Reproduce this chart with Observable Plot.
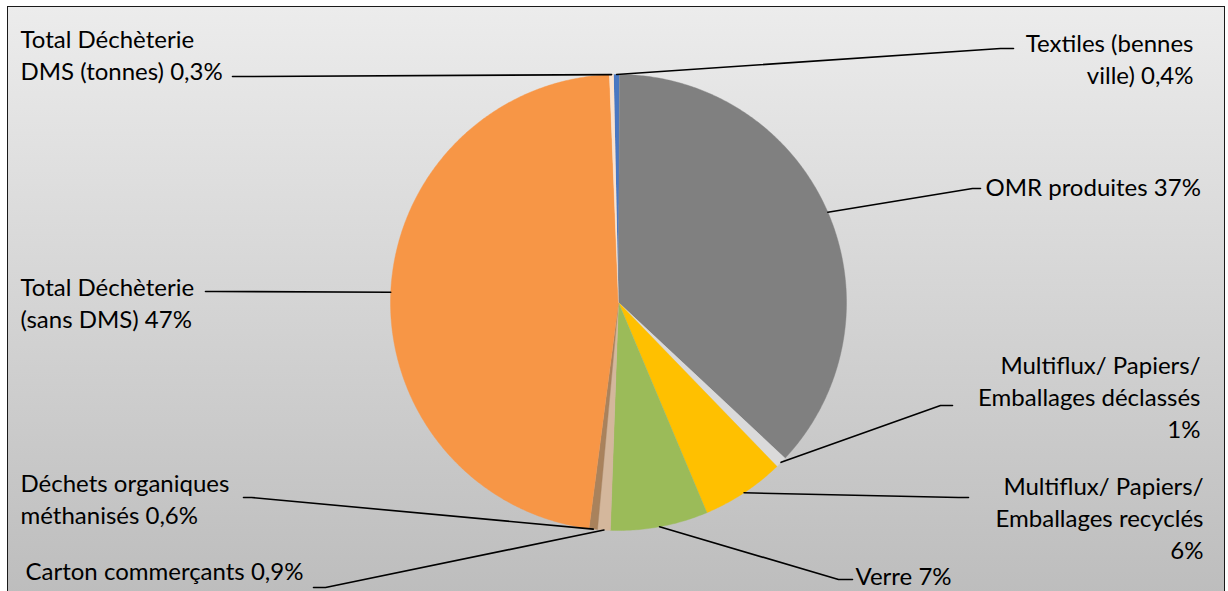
<!DOCTYPE html>
<html>
<head>
<meta charset="utf-8">
<script src="https://cdn.jsdelivr.net/npm/d3@7"></script>
<script src="https://cdn.jsdelivr.net/npm/@observablehq/plot@0.6"></script>
<style>
html, body { margin: 0; padding: 0; background: #ffffff; }
#wrap { position: relative; width: 1228px; height: 591px; overflow: hidden; }
#bg { position: absolute; left: 7px; top: 6px; width: 1216px; height: 600px;
      border: 1.5px solid #1a1a1a; background: linear-gradient(to bottom, #ececec 0%, #bcbcbc 100%); }
#chart { position: absolute; left: 0; top: 0; }
</style>
</head>
<body>
<div id="wrap"><div id="bg"></div><div id="chart"></div></div>
<script>
// ---- data ----
const categories = [
  "Textiles (bennes ville)",
  "OMR produites",
  "Multiflux/ Papiers/ Emballages déclassés",
  "Multiflux/ Papiers/ Emballages recyclés",
  "Verre",
  "Carton commerçants",
  "Déchets organiques méthanisés",
  "Total Déchèterie (sans DMS)",
  "Total Déchèterie DMS (tonnes)"
];
const shares = [0.4, 36.9, 0.8, 5.9, 6.9, 0.9, 0.6, 47.3, 0.3];
const labelTexts = [
  "Textiles (bennes\nville) 0,4%",
  "OMR produites 37%",
  "Multiflux/ Papiers/\nEmballages déclassés\n1%",
  "Multiflux/ Papiers/\nEmballages recyclés\n6%",
  "Verre 7%",
  "Carton commerçants 0,9%",
  "Déchets organiques\nméthanisés 0,6%",
  "Total Déchèterie\n(sans DMS) 47%",
  "Total Déchèterie\nDMS (tonnes) 0,3%"
];
const colors = ["#4a78c2", "#808080", "#dadada", "#ffc000", "#9bbb59", "#d4b79c", "#a9825c", "#f79646", "#fbe3cf"];

// ---- layout ----
const W = 1228, H = 591;
const cx = 618, cy = 302, R = 228;
const startDeg = -1.2;
const labelLayout = [
  {x: 1193, y: 57,  anchor: "end",   lx: 1013, ly: 48,  ex: 1000},
  {x: 985,  y: 185, anchor: "start", lx: 980,  ly: 188, ex: 972},
  {x: 1200, y: 395, anchor: "end",   lx: 952,  ly: 405, ex: 940},
  {x: 1203, y: 516, anchor: "end",   lx: 968,  ly: 497, ex: 958},
  {x: 855,  y: 574, anchor: "start", lx: 852,  ly: 579, ex: 838},
  {x: 25,   y: 569, anchor: "start", lx: 313,  ly: 587, ex: 325},
  {x: 20,   y: 497, anchor: "start", lx: 243,  ly: 497, ex: 251},
  {x: 20,   y: 301, anchor: "start", lx: 205,  ly: 291, ex: 215},
  {x: 20,   y: 53,  anchor: "start", lx: 232,  ly: 76,  ex: 241}
];

const a0 = startDeg * Math.PI / 180;
const arcs = d3.pie().sort(null).value(d => d).startAngle(a0).endAngle(a0 + 2 * Math.PI)(shares);
const P = (a, r) => [cx + r * Math.sin(a), cy - r * Math.cos(a)];

const sliceRows = [];
arcs.forEach((p, i) => {
  const n = Math.max(2, Math.ceil((p.endAngle - p.startAngle) / (Math.PI / 360)));
  sliceRows.push({k: categories[i], x: cx, y: cy});
  for (let j = 0; j <= n; j++) {
    const [x, y] = P(p.startAngle + (p.endAngle - p.startAngle) * j / n, R);
    sliceRows.push({k: categories[i], x, y});
  }
});
const discRows = d3.range(0, 721).map(j => { const [x, y] = P(j * Math.PI / 360, R); return {x, y}; });

const leaderRows = [];
arcs.forEach((p, i) => {
  const L = labelLayout[i];
  const [mx, my] = P((p.startAngle + p.endAngle) / 2, R);
  leaderRows.push({k: i, x: L.lx, y: L.ly}, {k: i, x: L.ex, y: L.ly}, {k: i, x: mx, y: my});
});
const labelRows = labelLayout.map((L, i) => ({...L, text: labelTexts[i]}));
const textOpts = {x: "x", y: "y", text: "text", lineAnchor: "middle", fontSize: 24, lineHeight: 1.33, fill: "#000"};

const chart = Plot.plot({
  width: W, height: H, margin: 0,
  x: {type: "linear", domain: [0, W], range: [0, W], axis: null},
  y: {type: "linear", domain: [0, H], range: [0, H], axis: null},
  color: {domain: categories, range: colors},
  style: {background: "transparent", fontFamily: "Lato, 'Open Sans', sans-serif", overflow: "visible"},
  marks: [
    Plot.line(discRows, {x: "x", y: "y", fill: "#000", fillOpacity: 0.55, stroke: "none", dx: 3, dy: 4, ariaLabel: "shadow"}),
    Plot.line(sliceRows, {x: "x", y: "y", z: "k", fill: "k", stroke: "k", strokeWidth: 0.4}),
    Plot.line(leaderRows, {x: "x", y: "y", z: "k", stroke: "#000", strokeWidth: 1.6, curve: "linear"}),
    Plot.text(labelRows.filter(d => d.anchor === "start"), {...textOpts, textAnchor: "start"}),
    Plot.text(labelRows.filter(d => d.anchor === "end"), {...textOpts, textAnchor: "end"})
  ]
});
const svg = d3.select(chart);
const defs = svg.insert("defs", ":first-child");
const f = defs.append("filter").attr("id", "pieShadow").attr("x", "-20%").attr("y", "-20%").attr("width", "140%").attr("height", "140%");
f.append("feGaussianBlur").attr("stdDeviation", 4);
svg.select('[aria-label="shadow"]').attr("filter", "url(#pieShadow)");
document.getElementById("chart").appendChild(chart);
</script>
</body>
</html>
